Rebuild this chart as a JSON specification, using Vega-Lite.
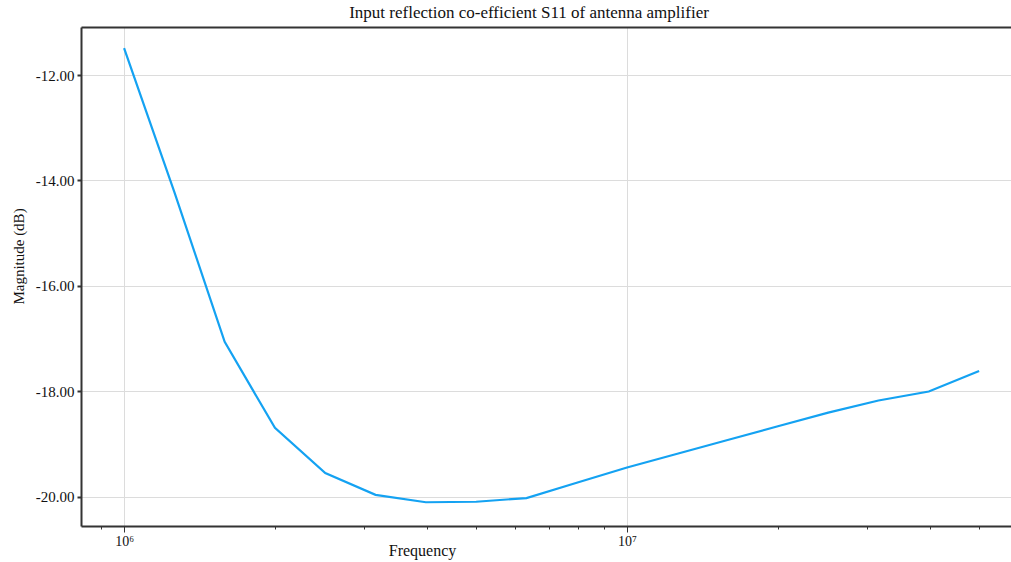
{
  "$schema": "https://vega.github.io/schema/vega-lite/v6.json",
  "width": 930,
  "height": 499,
  "autosize": {"type": "none"},
  "padding": {"left": 81, "top": 27, "right": 0, "bottom": 36},
  "background": "white",
  "title": {
    "text": "Input reflection co-efficient S11 of antenna amplifier",
    "font": "Liberation Serif",
    "fontSize": 17,
    "fontWeight": "normal",
    "color": "#111",
    "anchor": "middle",
    "dx": -17,
    "offset": 5
  },
  "config": {
    "view": {"stroke": null},
    "axis": {
      "labelFont": "Liberation Serif",
      "titleFont": "Liberation Serif",
      "labelFontSize": 15,
      "titleFontSize": 15,
      "titleFontWeight": "normal",
      "labelColor": "#111",
      "titleColor": "#111",
      "domainColor": "#333",
      "domainWidth": 2,
      "tickColor": "#333",
      "gridColor": "#dcdcdc",
      "gridWidth": 1
    }
  },
  "data": {
    "values": [
      {"f": 1000000, "db": -11.49},
      {"f": 1259000, "db": -14.22},
      {"f": 1585000, "db": -17.06},
      {"f": 1995000, "db": -18.69},
      {"f": 2512000, "db": -19.545},
      {"f": 3162000, "db": -19.96},
      {"f": 3981000, "db": -20.1},
      {"f": 5012000, "db": -20.09},
      {"f": 6310000, "db": -20.02},
      {"f": 7943000, "db": -19.73},
      {"f": 10000000, "db": -19.44},
      {"f": 12590000, "db": -19.18},
      {"f": 15850000, "db": -18.92},
      {"f": 19950000, "db": -18.66},
      {"f": 25120000, "db": -18.4},
      {"f": 31620000, "db": -18.17},
      {"f": 39810000, "db": -18.0},
      {"f": 50120000, "db": -17.61}
    ]
  },
  "layer": [
    {
      "mark": {"type": "line", "color": "#14a2f2", "strokeWidth": 2.2},
      "encoding": {
        "x": {
          "field": "f",
          "type": "quantitative",
          "scale": {"type": "log", "domain": [821000, 58000000], "nice": false, "zero": false},
          "axis": {
            "orient": "bottom",
            "title": "Frequency",
            "titleFontSize": 16,
            "titleX": 341,
            "titleY": 24,
            "titleBaseline": "middle",
            "titleAlign": "center",
            "values": [900000, 1000000, 2000000, 3000000, 4000000, 5000000, 6000000, 7000000, 8000000, 9000000, 10000000, 20000000, 30000000, 40000000, 50000000],
            "labelExpr": "datum.value == 1000000 ? '10⁶' : (datum.value == 10000000 ? '10⁷' : '')",
            "labelPadding": 2,
            "labelFontSize": 14,
            "tickSize": {"condition": {"test": "datum.value == 1000000 || datum.value == 10000000", "value": 6}, "value": 3},
            "gridOpacity": {"condition": {"test": "datum.value == 1000000 || datum.value == 10000000", "value": 1}, "value": 0},
            "grid": true
          }
        },
        "y": {
          "field": "db",
          "type": "quantitative",
          "scale": {"domain": [-20.55, -11.09], "nice": false, "zero": false},
          "axis": {
            "title": "Magnitude (dB)",
            "values": [-20, -18, -16, -14, -12],
            "labelExpr": "replace(format(datum.value, '.2f'), '−', '-')",
            "tickSize": 4,
            "tickWidth": 2,
            "labelPadding": 3,
            "titleX": -63,
            "titleY": 229,
            "titleAlign": "center",
            "titleBaseline": "middle",
            "titleAngle": -90,
            "grid": true
          }
        }
      }
    },
    {
      "mark": {"type": "line", "opacity": 0},
      "encoding": {
        "x": {
          "field": "f",
          "type": "quantitative",
          "axis": {"orient": "top", "title": null, "labels": false, "ticks": false, "grid": false, "domainWidth": 2}
        },
        "y": {"field": "db", "type": "quantitative"}
      }
    }
  ]
}
